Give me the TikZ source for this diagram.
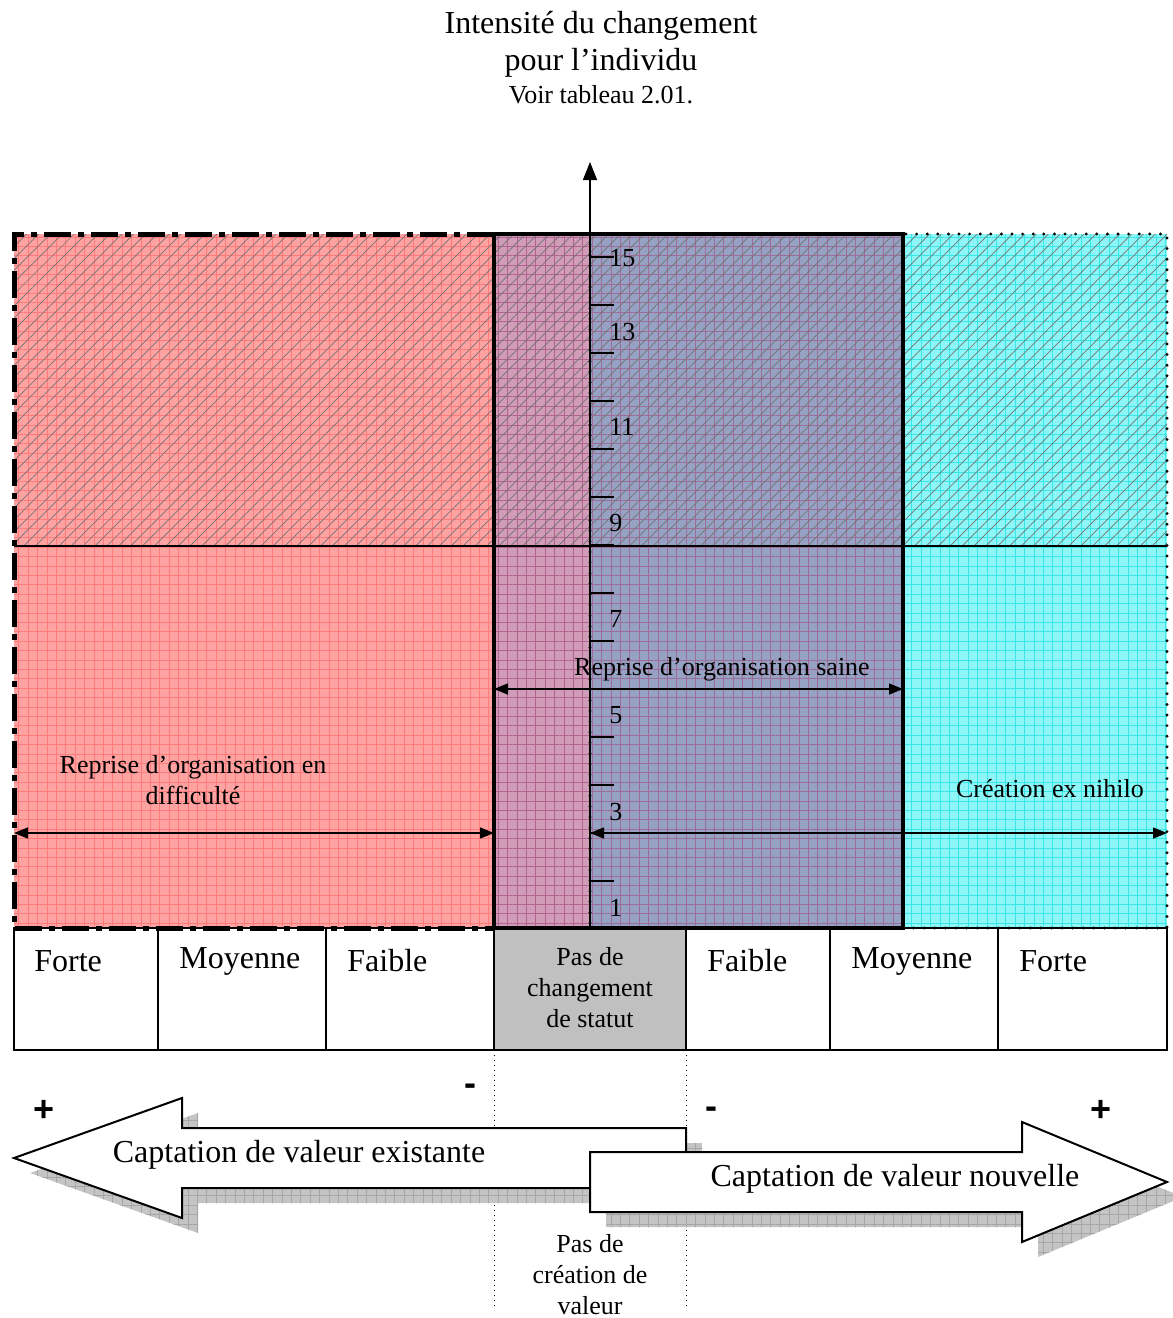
\documentclass[tikz,border=0pt]{standalone}
\usepackage{fontspec}
\setmainfont{Liberation Serif}
\newfontfamily\signfont{Liberation Sans}
\usetikzlibrary{arrows.meta, positioning, patterns.meta, calc}
\definecolor{zonered}{HTML}{FFA2A2}
\definecolor{gridred}{HTML}{FF7A7A}
\definecolor{zonemauve}{HTML}{D09CB8}
\definecolor{gridmauve}{HTML}{B2628F}
\definecolor{zoneblue}{HTML}{95A2C4}
\definecolor{gridblue}{HTML}{9E6C98}
\definecolor{zonecyan}{HTML}{8EF6F6}
\definecolor{gridcyan}{HTML}{38E6E6}
\definecolor{cellgray}{HTML}{C0C0C0}
\definecolor{shadowgray}{HTML}{C4C4C4}

\begin{document}
\begin{tikzpicture}[
    x=0.5pt, y=-0.5pt,
    big/.style={font=\fontsize{16}{18.5}\selectfont, inner sep=0pt},
    small/.style={font=\fontsize{13}{15.5}\selectfont, align=center, inner sep=0pt},
    sign/.style={font=\signfont\bfseries\fontsize{18}{18}\selectfont, inner sep=0pt},
    grille/.style={pattern={Hatch[angle=0,distance=4.7pt,line width=0.4pt]}, pattern color=#1},
    hachure/.style={pattern={Lines[angle=45,distance=4.2pt,line width=0.35pt]}, pattern color=black!55},
    fleche/.style={{Triangle[length=7pt,width=5.5pt]}-{Triangle[length=7pt,width=5.5pt]}, line width=0.75pt},
    cell/.style={big, anchor=west},
    bloc/.style={draw=black, line width=1pt, fill=white, line join=miter},
    ombre/.style={fill=shadowgray, postaction={grille=black!35}}
]
\useasboundingbox (0,0) rectangle (1173,1318);

% Title
\node[font=\fontsize{16}{18.5}\selectfont, align=center] (titre) at (601,44) {Intensité du changement\\pour l’individu};
\node[small, below=0.5pt of titre] (voir) {Voir tableau 2.01.};

% Zones
\fill[zonered] (14,234) rectangle (494,928);
\fill[zonemauve] (494,234) rectangle (590,928);
\fill[zoneblue] (590,234) rectangle (903,928);
\fill[zonecyan] (903,234) rectangle (1167,928);
\fill[grille=gridred] (14,234) rectangle (494,928);
\fill[grille=gridmauve] (494,234) rectangle (590,928);
\fill[grille=gridblue] (590,234) rectangle (903,928);
\fill[grille=gridcyan] (903,234) rectangle (1167,928);
\fill[hachure] (14,234) rectangle (1167,546);
\draw[line width=0.8pt] (14,546) -- (1167,546);

% Table
\fill[cellgray] (494,928) rectangle (686,1050);
\draw[line width=0.6pt] (14,928) rectangle (1167,1050);
\foreach \cx in {158,326,494,686,830,998}
    \draw[line width=0.6pt] (\cx,928) -- (\cx,1050);

% Borders
\draw[line width=1.6pt, dash pattern=on 0pt off 5.3pt, line cap=round] (590,234) rectangle (1167,928);
\draw[line width=2.5pt, dash pattern=on 13.5pt off 3.5pt on 3pt off 3.5pt] (494,234) -- (14,234) -- (14,928) -- (494,928);
\draw[line width=2.4pt] (494,234) rectangle (903,928);

% Axis
\coordinate (axe0) at (590,928);
\coordinate (axe1) at (590,162);
\draw[line width=0.6pt, -{Triangle[length=9pt,width=7pt]}] (axe0) -- (axe1);
\foreach \k in {0,...,13}
    \draw[line width=0.8pt] (590,{257+48*\k}) -- ++(24,0);
\foreach \v/\py in {15/258,13/332,11/427,9/523,7/619,5/715,3/812,1/908}
    \node[small, anchor=west] (n\v) at (609,\py) {\v};

% Zone labels and ranges
\coordinate (diff-g) at (14,833);
\coordinate (diff-d) at (494,833);
\coordinate (saine-g) at (494,689);
\coordinate (saine-d) at (903,689);
\coordinate (nihilo-g) at (590,833);
\coordinate (nihilo-d) at (1167,833);
\draw[fleche] (diff-g) -- (diff-d);
\draw[fleche] (saine-g) -- (saine-d);
\draw[fleche] (nihilo-g) -- (nihilo-d);
\node[small] (difficulte) at (193,780) {Reprise d’organisation en\\difficulté};
\node[small] (saine) at (722,669) {Reprise d’organisation saine};
\node[small] (nihilo) at (1050,789) {Création ex nihilo};

% Cells
\node[cell] (c1) at (34,961) {Forte};
\node[cell] (c2) at (179,961) {Moyenne};
\node[cell] (c3) at (347,961) {Faible};
\node[small] (c4) at (590,988) {Pas de\\changement\\de statut};
\node[cell] (c5) at (707,961) {Faible};
\node[cell] (c6) at (851,961) {Moyenne};
\node[cell] (c7) at (1019,961) {Forte};

% Dotted guides
\draw[line width=0.5pt, dotted] (494,1050) -- (494,1310);
\draw[line width=0.5pt, dotted] (686,1050) -- (686,1310);

% Signs
\node[sign] (m1) at (470,1090) {-};
\node[sign] (p1) at (44,1111) {+};
\node[sign] (m2) at (711,1113) {-};
\node[sign] (p2) at (1101,1111) {+};

% Block arrows
\fill[ombre, shift={(16,15)}] (14,1158) -- (182,1098) -- (182,1128) -- (686,1128) -- (686,1188) -- (182,1188) -- (182,1218) -- cycle;
\draw[bloc] (14,1158) -- (182,1098) -- (182,1128) -- (686,1128) -- (686,1188) -- (182,1188) -- (182,1218) -- cycle;
\node[big] (existante) at (299,1155) {Captation de valeur existante};
\fill[ombre, shift={(16,15)}] (1167,1182) -- (1022,1122) -- (1022,1152) -- (590,1152) -- (590,1212) -- (1022,1212) -- (1022,1242) -- cycle;
\draw[bloc] (1167,1182) -- (1022,1122) -- (1022,1152) -- (590,1152) -- (590,1212) -- (1022,1212) -- (1022,1242) -- cycle;
\node[big] (nouvelle) at (895,1179) {Captation de valeur nouvelle};

\node[small] (pasvaleur) at (590,1275) {Pas de\\création de\\valeur};

\end{tikzpicture}
\end{document}
